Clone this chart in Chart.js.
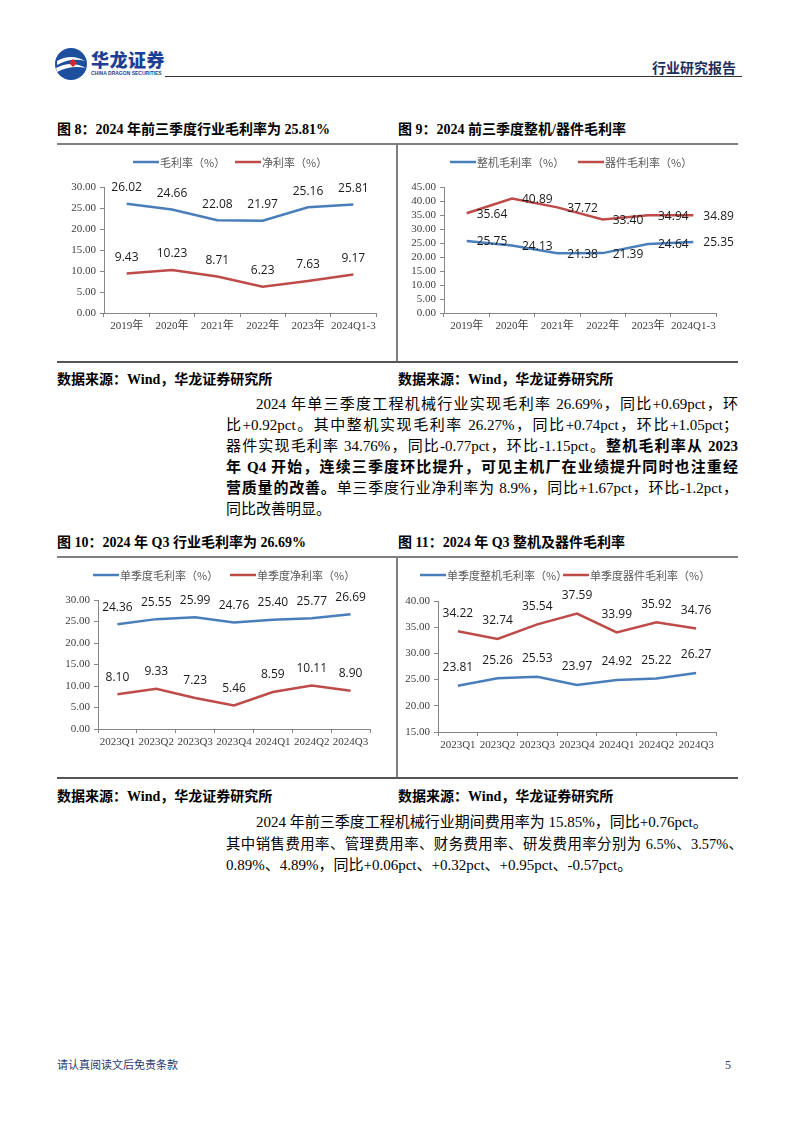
<!DOCTYPE html>
<html>
<head>
<meta charset="utf-8">
<script src="https://cdn.jsdelivr.net/npm/chart.js@4.4.1/dist/chart.umd.min.js"></script>
<style>
  body { margin:0; background:#fff; }
  #page { position:relative; width:794px; height:1123px; overflow:hidden; font-family:"Liberation Serif","Noto Sans CJK SC",serif; color:#000; }
  .abs { position:absolute; }
  .hline { position:absolute; background:#7f7f7f; }
  .title { position:absolute; font-size:14px; font-weight:700; white-space:nowrap; line-height:16px; }
  .src { position:absolute; font-size:14px; font-weight:700; white-space:nowrap; line-height:16px; }
  .ln { position:absolute; font-size:15px; line-height:20px; white-space:nowrap; }
  .just { text-align:justify; text-align-last:justify; }
  b { font-weight:700; }
  canvas { position:absolute; }
</style>
</head>
<body>
<div id="page">
  <!-- header -->
  <svg class="abs" style="left:54px;top:47px" width="34" height="34" viewBox="0 0 34 34">
    <circle cx="17" cy="17" r="16" fill="#1d4f9e"/>
    <path d="M3 14 Q17 6 31 14 Q17 10 3 18 Z" fill="#fff"/>
    <path d="M2 21 Q17 13 32 21 Q17 18 3 25 Z" fill="#fff"/>
    <path d="M19 12 L23 16 L19 20 L15 16 Z" fill="#d7262b"/>
  </svg>
  <div class="abs" style="left:91px;top:49px;font-family:'Noto Sans CJK SC';font-weight:900;font-size:18px;line-height:20px;color:#1d3f93;letter-spacing:0.5px">华龙证券</div>
  <div class="abs" style="left:91px;top:70px;font-family:'Liberation Sans';font-weight:700;font-size:5px;line-height:6px;color:#1d3f93">CHINA DRAGON SECURITIES</div>
  <div class="hline" style="left:165px;top:76px;width:577px;height:1px;background:#333"></div>
  <div class="abs" style="left:652px;top:58px;font-family:'Noto Sans CJK SC';font-weight:700;font-size:14px;line-height:18px;color:#1d2f5e">行业研究报告</div>

  <!-- figures 8 / 9 -->
  <div class="title" style="left:57px;top:122px">图 8：2024 年前三季度行业毛利率为 25.81%</div>
  <div class="title" style="left:398px;top:122px">图 9：2024 前三季度整机/器件毛利率</div>
  <div class="hline" style="left:57px;top:143px;width:681px;height:2px"></div>
  <div class="hline" style="left:396px;top:143px;width:2px;height:219px"></div>
  <div class="hline" style="left:57px;top:361px;width:681px;height:1.5px;background:#555"></div>
  <canvas id="c8" width="336" height="212" style="left:57px;top:148px"></canvas>
  <canvas id="c9" width="337" height="212" style="left:400px;top:148px"></canvas>
  <div class="src" style="left:57px;top:372px">数据来源：Wind，华龙证券研究所</div>
  <div class="src" style="left:398px;top:372px">数据来源：Wind，华龙证券研究所</div>

  <div class="ln just" style="left:256px;top:394px;width:482px">2024 年单三季度工程机械行业实现毛利率 26.69%，同比+0.69pct，环</div>
  <div class="ln just" style="left:226px;top:415px;width:512px">比+0.92pct。其中整机实现毛利率 26.27%，同比+0.74pct，环比+1.05pct；</div>
  <div class="ln just" style="left:226px;top:436px;width:512px">器件实现毛利率 34.76%，同比-0.77pct，环比-1.15pct。<b>整机毛利率从 2023</b></div>
  <div class="ln just" style="left:226px;top:457px;width:512px"><b>年 Q4 开始，连续三季度环比提升，可见主机厂在业绩提升同时也注重经</b></div>
  <div class="ln just" style="left:226px;top:478px;width:512px"><b>营质量的改善。</b>单三季度行业净利率为 8.9%，同比+1.67pct，环比-1.2pct，</div>
  <div class="ln" style="left:226px;top:499px">同比改善明显。</div>

  <!-- figures 10 / 11 -->
  <div class="title" style="left:57px;top:535px">图 10：2024 年 Q3 行业毛利率为 26.69%</div>
  <div class="title" style="left:398px;top:535px">图 11：2024 年 Q3 整机及器件毛利率</div>
  <div class="hline" style="left:57px;top:556px;width:681px;height:2px"></div>
  <div class="hline" style="left:396px;top:556px;width:2px;height:222px"></div>
  <div class="hline" style="left:57px;top:777px;width:681px;height:1.5px;background:#555"></div>
  <canvas id="c10" width="336" height="216" style="left:57px;top:560px"></canvas>
  <canvas id="c11" width="337" height="216" style="left:400px;top:560px"></canvas>
  <div class="src" style="left:57px;top:789px">数据来源：Wind，华龙证券研究所</div>
  <div class="src" style="left:398px;top:789px">数据来源：Wind，华龙证券研究所</div>

  <div class="ln" style="left:256px;top:812px">2024 年前三季度工程机械行业期间费用率为 15.85%，同比+0.76pct。</div>
  <div class="ln just" style="left:226px;top:834px;width:517px;font-size:14.4px">其中销售费用率、管理费用率、财务费用率、研发费用率分别为 6.5%、3.57%、</div>
  <div class="ln" style="left:226px;top:855px">0.89%、4.89%，同比+0.06pct、+0.32pct、+0.95pct、-0.57pct。</div>

  <!-- footer -->
  <div class="abs" style="left:57px;top:1058px;font-size:11px;line-height:14px;color:#1f3a6e">请认真阅读文后免责条款</div>
  <div class="abs" style="left:725px;top:1058px;font-size:12px;line-height:14px;color:#1f3a6e">5</div>
</div>

<script>
// ---- data ----
const yearCats = ['2019年', '2020年', '2021年', '2022年', '2023年', '2024Q1-3'];
const grossYear = [26.02, 24.66, 22.08, 21.97, 25.16, 25.81];
const netYear = [9.43, 10.23, 8.71, 6.23, 7.63, 9.17];
const machineYear = [25.75, 24.13, 21.38, 21.39, 24.64, 25.35];
const partsYear = [35.64, 40.89, 37.72, 33.40, 34.94, 34.89];

const quarterCats = ['2023Q1', '2023Q2', '2023Q3', '2023Q4', '2024Q1', '2024Q2', '2024Q3'];
const grossQ = [24.36, 25.55, 25.99, 24.76, 25.40, 25.77, 26.69];
const netQ = [8.10, 9.33, 7.23, 5.46, 8.59, 10.11, 8.90];
const machineQ = [23.81, 25.26, 25.53, 23.97, 24.92, 25.22, 26.27];
const partsQ = [34.22, 32.74, 35.54, 37.59, 33.99, 35.92, 34.76];

const BLUE = '#4a7ebb';
const RED = '#be4b48';
const AXIS = '#868686';

// legend drawn as line + text at fixed spots
const lineLegend = {
  id: 'lineLegend',
  afterDraw(chart, args, opts) {
    const ctx = chart.ctx;
    chart.data.datasets.forEach((ds, i) => {
      const x = opts.xs[i];
      ctx.save();
      ctx.strokeStyle = ds.borderColor;
      ctx.lineWidth = 2.5;
      ctx.beginPath();
      ctx.moveTo(x, opts.y);
      ctx.lineTo(x + 26, opts.y);
      ctx.stroke();
      ctx.fillStyle = '#595959';
      ctx.font = "11px 'Noto Sans CJK SC'";
      ctx.textBaseline = 'middle';
      ctx.fillText(ds.label, x + 27, opts.y + 0.5);
      ctx.restore();
    });
  }
};

// value labels next to each point
const pointLabels = {
  id: 'pointLabels',
  afterDatasetsDraw(chart, args, opts) {
    const ctx = chart.ctx;
    ctx.save();
    ctx.font = "12px 'Open Sans', 'Liberation Sans'";
    ctx.fillStyle = '#1a1a1a';
    ctx.textAlign = opts.align;
    ctx.textBaseline = 'middle';
    chart.data.datasets.forEach((ds, i) => {
      const meta = chart.getDatasetMeta(i);
      meta.data.forEach((pt, j) => {
        ctx.fillText(ds.data[j].toFixed(2), pt.x + opts.dx, pt.y + opts.dy);
      });
    });
    ctx.restore();
  }
};

function makeChart(id, cats, series, cfg) {
  return new Chart(document.getElementById(id), {
    type: 'line',
    data: {
      labels: cats,
      datasets: series.map(s => ({
        label: s.label,
        data: s.data,
        borderColor: s.color,
        backgroundColor: s.color,
        borderWidth: 2.5,
        pointRadius: 0,
        tension: 0,
        fill: false
      }))
    },
    options: {
      responsive: false,
      animation: false,
      devicePixelRatio: 1,
      layout: { padding: { left: 0, right: cfg.right, top: cfg.top, bottom: 0 } },
      plugins: {
        legend: { display: false },
        tooltip: { enabled: false },
        lineLegend: { y: cfg.legendY, xs: cfg.legendXs },
        pointLabels: cfg.labels
      },
      scales: {
        x: {
          offset: true,
          grid: { offset: true, drawOnChartArea: false, tickLength: 4, color: AXIS },
          border: { color: AXIS, width: 1 },
          ticks: {
            autoSkip: false, maxRotation: 0, padding: 3, color: '#404040',
            font: { family: "'Liberation Serif', 'Noto Sans CJK SC'", size: 11 }
          },
          afterFit: s => { s.height = cfg.xHeight; }
        },
        y: {
          min: cfg.min, max: cfg.max,
          ticks: {
            stepSize: 5, autoSkip: false, padding: 4, color: '#404040',
            font: { family: "'Liberation Serif'", size: 11 },
            callback: v => v.toFixed(2)
          },
          grid: { drawOnChartArea: false, tickLength: 4, color: AXIS },
          border: { color: AXIS, width: 1 },
          afterFit: s => { s.width = cfg.yWidth; }
        }
      }
    },
    plugins: [lineLegend, pointLabels]
  });
}

makeChart('c8', yearCats, [
  { label: '毛利率（%）', data: grossYear, color: BLUE },
  { label: '净利率（%）', data: netYear, color: RED }
], { right: 17, top: 39, xHeight: 47, yWidth: 47, min: 0, max: 30,
     legendY: 14, legendXs: [76, 178], labels: { dx: 0, dy: -16, align: 'center' } });

makeChart('c9', yearCats, [
  { label: '整机毛利率（%）', data: machineYear, color: BLUE },
  { label: '器件毛利率（%）', data: partsYear, color: RED }
], { right: 21, top: 39, xHeight: 47, yWidth: 44, min: 0, max: 45,
     legendY: 14, legendXs: [50, 178], labels: { dx: 10, dy: 1, align: 'left' } });

makeChart('c10', quarterCats, [
  { label: '单季度毛利率（%）', data: grossQ, color: BLUE },
  { label: '单季度净利率（%）', data: netQ, color: RED }
], { right: 23, top: 40, xHeight: 47, yWidth: 41, min: 0, max: 30,
     legendY: 15, legendXs: [36, 173], labels: { dx: 0, dy: -17, align: 'center' } });

makeChart('c11', quarterCats, [
  { label: '单季度整机毛利率（%）', data: machineQ, color: BLUE },
  { label: '单季度器件毛利率（%）', data: partsQ, color: RED }
], { right: 21, top: 41, xHeight: 44, yWidth: 38, min: 15, max: 40,
     legendY: 15, legendXs: [20, 163], labels: { dx: 0, dy: -18, align: 'center' } });
</script>
</body>
</html>
